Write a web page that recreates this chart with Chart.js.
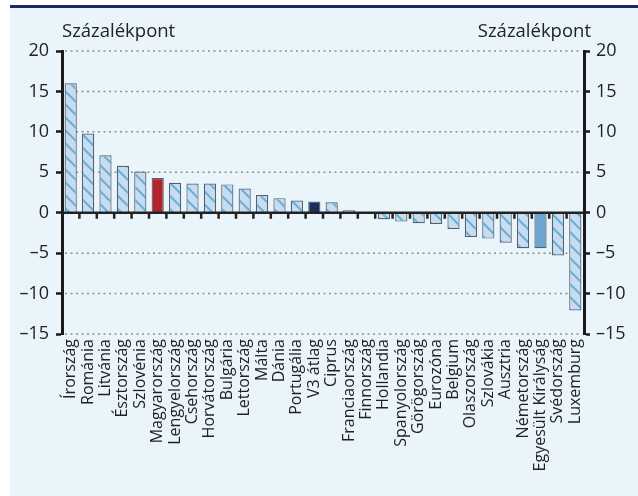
<!DOCTYPE html>
<html>
<head>
<meta charset="utf-8">
<script src="https://cdn.jsdelivr.net/npm/chart.js@4/dist/chart.umd.min.js"></script>
<style>
    html, body { margin: 0; padding: 0; background: #ffffff; }
    #keret {
        position: absolute; left: 10px; top: 5px; width: 628px; height: 488px;
        background: #eaf4fb; border-top: 3px solid #1c2a6b;
    }
    #grafikon { position: absolute; left: 0; top: 0; }
</style>
</head>
<body>
<div id="keret"></div>
<canvas id="grafikon" width="638" height="496"></canvas>
<script>
    // Országok és az értékek (százalékpont)
    const orszagok = ['Írország', 'Románia', 'Litvánia', 'Észtország', 'Szlovénia', 'Magyarország',
        'Lengyelország', 'Csehország', 'Horvátország', 'Bulgária', 'Lettország', 'Málta', 'Dánia',
        'Portugália', 'V3 átlag', 'Ciprus', 'Franciaország', 'Finnország', 'Hollandia', 'Spanyolország',
        'Görögország', 'Eurozóna', 'Belgium', 'Olaszország', 'Szlovákia', 'Ausztria', 'Németország',
        'Egyesült Királyság', 'Svédország', 'Luxemburg'];
    const ertekek = [16.0, 9.8, 7.1, 5.8, 5.1, 4.3, 3.7, 3.6, 3.6, 3.5, 3.0, 2.2, 1.8,
        1.5, 1.4, 1.3, 0.3, 0.1, -0.8, -1.1, -1.3, -1.4, -2.0, -3.0, -3.2, -3.7, -4.4,
        -4.4, -5.3, -12.1];
    const yMin = -15;
    const yMax = 20;
    const yLepes = 5;
    const tengelyCim = 'Százalékpont';

    const betu = '"Open Sans", Lato, sans-serif';

    // Sraffozott kitöltés a többi országnak
    function sraffoz() {
        const m = 13;
        const c = document.createElement('canvas');
        c.width = m; c.height = m;
        const g = c.getContext('2d');
        g.fillStyle = '#c6dcf0';
        g.fillRect(0, 0, m, m);
        g.strokeStyle = '#6aaed6';
        g.lineWidth = 2;
        g.beginPath();
        g.moveTo(-2, -2); g.lineTo(m + 2, m + 2);
        g.moveTo(-2, m - 2); g.lineTo(2, m + 2);
        g.moveTo(m - 2, -2); g.lineTo(m + 2, 2);
        g.stroke();
        return g.createPattern(c, 'repeat');
    }
    const minta = sraffoz();

    const kiemelt = {
        'Magyarország': '#b3232b',
        'V3 átlag': '#1b2d5c',
        'Egyesült Királyság': '#6aa6d0'
    };
    const szinek = orszagok.map(o => kiemelt[o] || minta);

    // Pontozott rácsvonalak, nullvonal, x tengely osztásai és a tengelyfeliratok
    const kiegeszitok = {
        id: 'kiegeszitok',
        beforeDatasetsDraw(chart) {
            const { ctx, chartArea, scales } = chart;
            ctx.save();
            ctx.strokeStyle = '#8e8e8e';
            ctx.lineWidth = 1.5;
            ctx.setLineDash([2, 3.5]);
            for (let v = yMin; v <= yMax; v += yLepes) {
                if (v === 0) continue;
                const y = scales.y.getPixelForValue(v);
                ctx.beginPath();
                ctx.moveTo(chartArea.left + 3, y);
                ctx.lineTo(chartArea.right - 2, y);
                ctx.stroke();
            }
            ctx.restore();
        },
        afterDatasetsDraw(chart) {
            const { ctx, chartArea, scales } = chart;
            const y0 = scales.y.getPixelForValue(0);
            ctx.save();
            ctx.strokeStyle = '#222222';
            ctx.lineWidth = 2.5;
            ctx.beginPath();
            ctx.moveTo(chartArea.left, y0);
            ctx.lineTo(chartArea.right, y0);
            ctx.stroke();
            ctx.beginPath();
            for (let i = 1; i < orszagok.length; i++) {
                const x = (scales.x.getPixelForValue(i - 1) + scales.x.getPixelForValue(i)) / 2;
                ctx.moveTo(x, y0);
                ctx.lineTo(x, y0 + 6);
            }
            ctx.stroke();
            ctx.restore();
        },
        afterDraw(chart) {
            const { ctx, chartArea } = chart;
            ctx.save();
            ctx.fillStyle = '#222222';
            ctx.font = '18.5px ' + betu;
            ctx.textBaseline = 'middle';
            ctx.textAlign = 'left';
            ctx.fillText(tengelyCim, chartArea.left, 32);
            ctx.textAlign = 'right';
            ctx.fillText(tengelyCim, chartArea.right + 7, 32);
            ctx.restore();
        }
    };

    const tickSzoveg = v => String(v).replace('-', '–');

    new Chart(document.getElementById('grafikon'), {
        type: 'bar',
        data: {
            labels: orszagok,
            datasets: [{
                data: ertekek,
                backgroundColor: szinek,
                borderColor: '#55606a',
                borderWidth: 1.2,
                categoryPercentage: 1,
                barPercentage: 0.7
            }]
        },
        options: {
            responsive: false,
            devicePixelRatio: 1,
            animation: false,
            layout: { padding: { top: 51, left: 0, right: 0, bottom: 0 } },
            plugins: {
                legend: { display: false },
                tooltip: { enabled: false }
            },
            scales: {
                x: {
                    grid: { display: false, drawTicks: false },
                    border: { display: false },
                    ticks: {
                        autoSkip: false,
                        minRotation: 90,
                        maxRotation: 90,
                        padding: 5,
                        color: '#222222',
                        font: { family: betu, size: 16 }
                    },
                    afterFit: s => { s.height = 162; }
                },
                y: {
                    position: 'left',
                    min: yMin,
                    max: yMax,
                    ticks: {
                        stepSize: yLepes,
                        padding: 7,
                        color: '#222222',
                        font: { family: betu, size: 18 },
                        callback: tickSzoveg
                    },
                    grid: {
                        drawOnChartArea: false,
                        tickLength: 6,
                        tickColor: '#1a1a1a',
                        tickWidth: 2.5
                    },
                    border: { display: true, color: '#1a1a1a', width: 3 },
                    afterFit: s => { s.width = 62; }
                },
                y2: {
                    position: 'right',
                    min: yMin,
                    max: yMax,
                    ticks: {
                        stepSize: yLepes,
                        padding: 6,
                        color: '#222222',
                        font: { family: betu, size: 18 },
                        callback: tickSzoveg
                    },
                    grid: {
                        drawOnChartArea: false,
                        tickLength: 6,
                        tickColor: '#1a1a1a',
                        tickWidth: 2.5
                    },
                    border: { display: true, color: '#1a1a1a', width: 3 },
                    afterFit: s => { s.width = 54; }
                }
            }
        },
        plugins: [kiegeszitok]
    });
</script>
</body>
</html>
